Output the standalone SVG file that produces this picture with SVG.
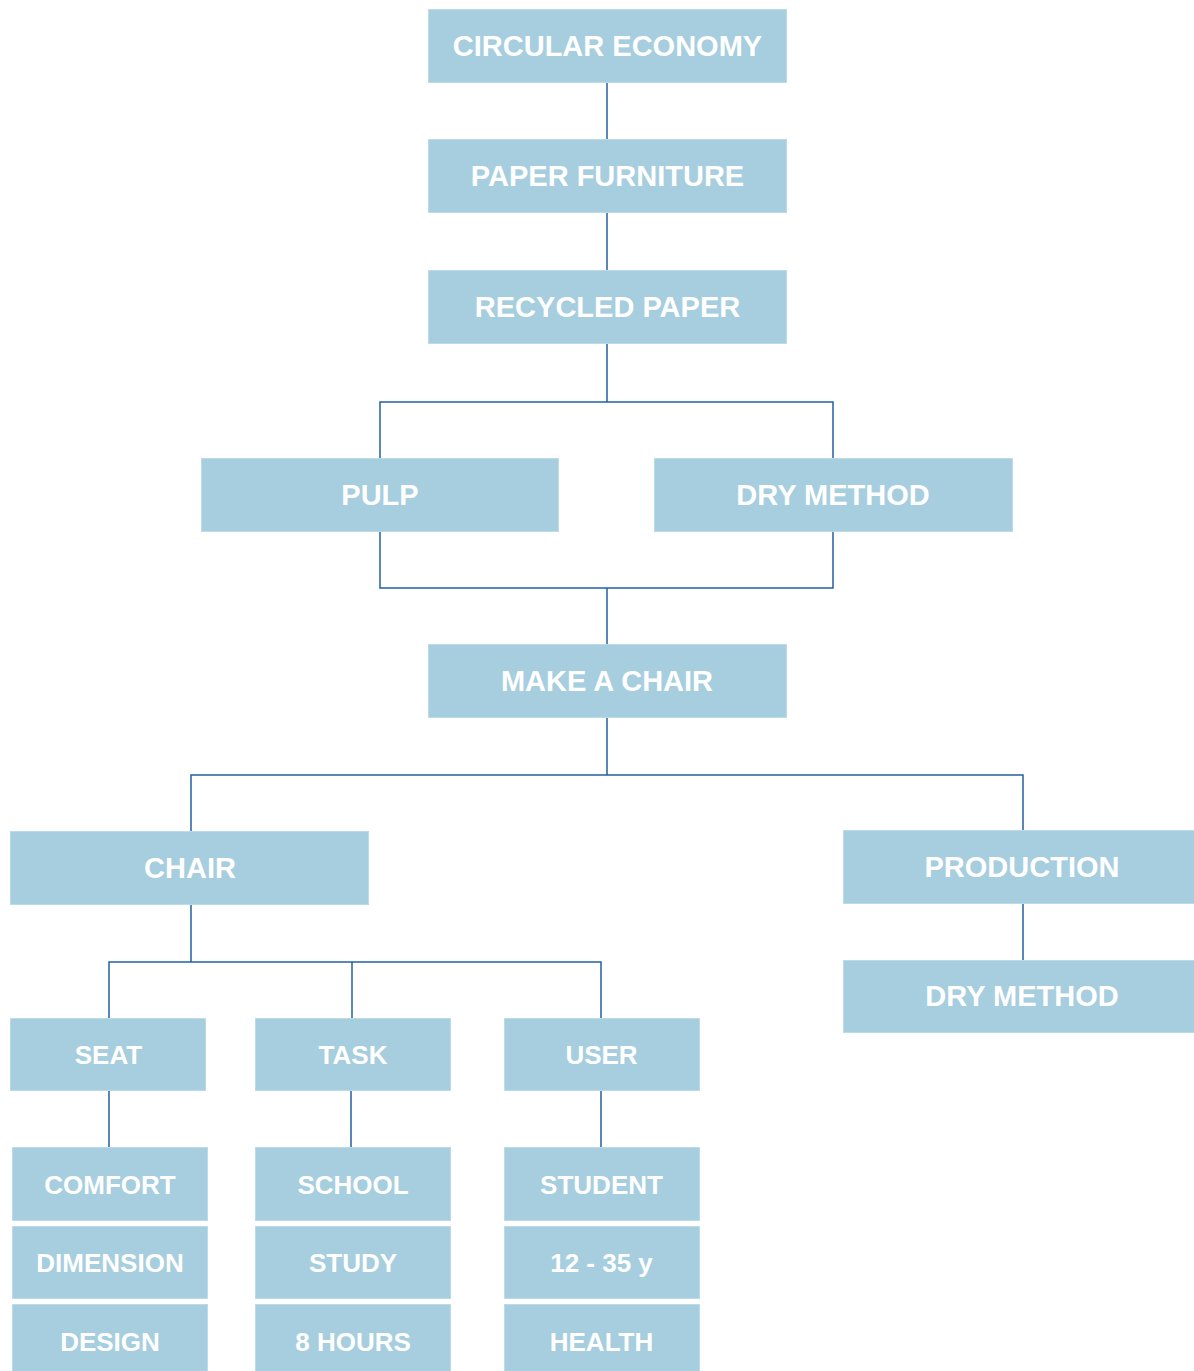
<svg xmlns="http://www.w3.org/2000/svg" width="1194" height="1371" viewBox="0 0 1194 1371">
<style>
.box{fill:#A6CEDF;stroke:#BCDBE8;stroke-width:1}
.t{fill:#FFFFFF;font-family:"Liberation Sans",Arial,sans-serif;font-weight:bold;text-anchor:middle}
.l{font-size:29px}
.s{font-size:26px}
.c{fill:none;stroke:#2360A0;stroke-width:1.5}
</style>
<rect width="1194" height="1371" fill="#FFFFFF"/>
<g id="connectors">
<path class="c" d="M607 83V139"/>
<path class="c" d="M607 212V270"/>
<path class="c" d="M607 344V402M380 458V402H833V458"/>
<path class="c" d="M380 531V588H833V531M607 588V644"/>
<path class="c" d="M607 717V775M191 831V775H1023V830"/>
<path class="c" d="M1023 903V960"/>
<path class="c" d="M191 905V962M109 1018V962H601V1018M352 962V1018"/>
<path class="c" d="M109 1090V1147M351 1090V1147M601 1090V1147"/>
</g>
<g id="n-circular"><rect class="box" x="428.5" y="9.5" width="358" height="73"/><text class="t l" x="607.5" y="56">CIRCULAR ECONOMY</text></g>
<g id="n-paper"><rect class="box" x="428.5" y="139.5" width="358" height="73"/><text class="t l" x="607.5" y="186">PAPER FURNITURE</text></g>
<g id="n-recycled"><rect class="box" x="428.5" y="270.5" width="358" height="73"/><text class="t l" x="607.5" y="317">RECYCLED PAPER</text></g>
<g id="n-pulp"><rect class="box" x="201.5" y="458.5" width="357" height="73"/><text class="t l" x="380" y="505">PULP</text></g>
<g id="n-dry1"><rect class="box" x="654.5" y="458.5" width="358" height="73"/><text class="t l" x="833" y="505">DRY METHOD</text></g>
<g id="n-make"><rect class="box" x="428.5" y="644.5" width="358" height="73"/><text class="t l" x="607" y="691">MAKE A CHAIR</text></g>
<g id="n-chair"><rect class="box" x="10.5" y="831.5" width="358" height="73"/><text class="t l" x="190" y="878">CHAIR</text></g>
<g id="n-production"><rect class="box" x="843.5" y="830.5" width="358" height="73"/><text class="t l" x="1022" y="877">PRODUCTION</text></g>
<g id="n-dry2"><rect class="box" x="843.5" y="960.5" width="358" height="72"/><text class="t l" x="1022" y="1006">DRY METHOD</text></g>
<g id="n-seat"><rect class="box" x="10.5" y="1018.5" width="195" height="72"/><text class="t s" x="108.5" y="1064">SEAT</text></g>
<g id="n-task"><rect class="box" x="255.5" y="1018.5" width="195" height="72"/><text class="t s" x="353" y="1064">TASK</text></g>
<g id="n-user"><rect class="box" x="504.5" y="1018.5" width="195" height="72"/><text class="t s" x="601.5" y="1064">USER</text></g>
<g id="n-comfort"><rect class="box" x="12.5" y="1147.5" width="195" height="73"/><text class="t s" x="110" y="1194">COMFORT</text></g>
<g id="n-dimension"><rect class="box" x="12.5" y="1226.5" width="195" height="72"/><text class="t s" x="110" y="1272">DIMENSION</text></g>
<g id="n-design"><rect class="box" x="12.5" y="1304.5" width="195" height="72"/><text class="t s" x="110" y="1351">DESIGN</text></g>
<g id="n-school"><rect class="box" x="255.5" y="1147.5" width="195" height="73"/><text class="t s" x="353" y="1194">SCHOOL</text></g>
<g id="n-study"><rect class="box" x="255.5" y="1226.5" width="195" height="72"/><text class="t s" x="353" y="1272">STUDY</text></g>
<g id="n-hours"><rect class="box" x="255.5" y="1304.5" width="195" height="72"/><text class="t s" x="353" y="1351">8 HOURS</text></g>
<g id="n-student"><rect class="box" x="504.5" y="1147.5" width="195" height="73"/><text class="t s" x="601.5" y="1194">STUDENT</text></g>
<g id="n-age"><rect class="box" x="504.5" y="1226.5" width="195" height="72"/><text class="t s" x="601.5" y="1272">12 - 35 y</text></g>
<g id="n-health"><rect class="box" x="504.5" y="1304.5" width="195" height="72"/><text class="t s" x="601.5" y="1351">HEALTH</text></g>
</svg>
